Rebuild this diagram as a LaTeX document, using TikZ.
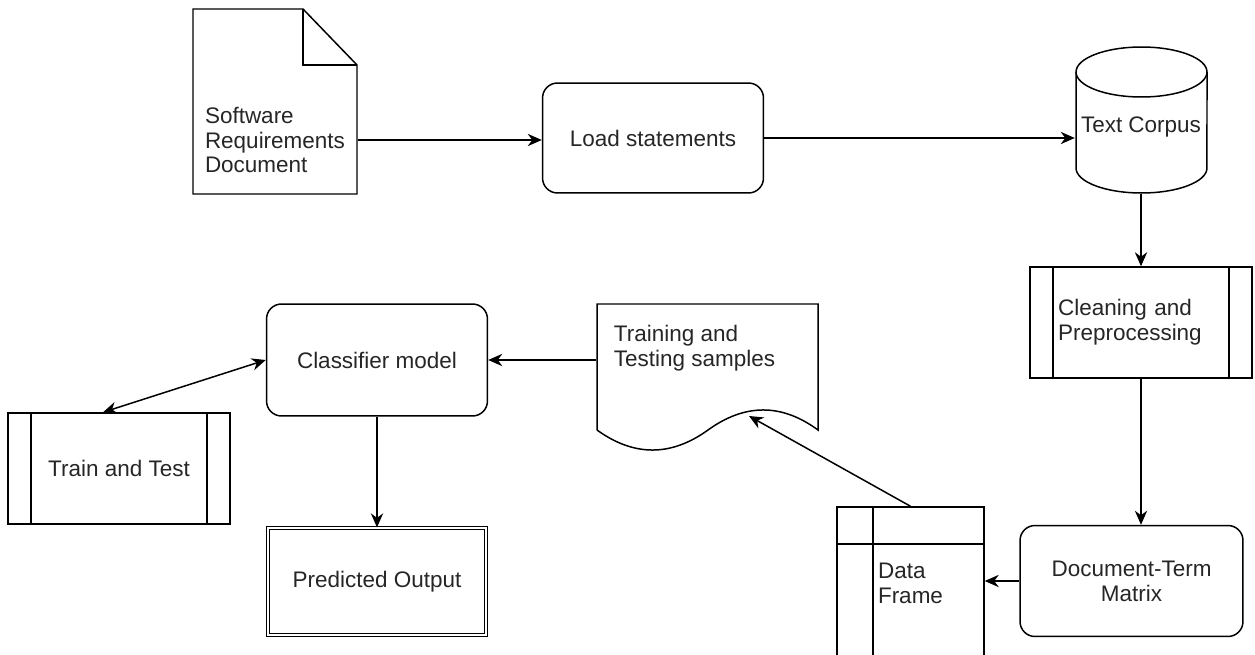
\documentclass[tikz,border=0pt]{standalone}
\usepackage{fontspec}
\setmainfont{Liberation Sans}
\usetikzlibrary{arrows.meta}

\begin{document}
\begin{tikzpicture}[x=0.02cm,y=0.02cm,line width=0.85pt,
  font=\fontsize{12.8}{14.2}\selectfont,
  txt/.style={text=black!85,align=left,inner sep=0pt},
  blankbox/.style={txt,rectangle,minimum width=4.44cm,minimum height=2.22cm},
  procbox/.style={blankbox,draw,rounded corners=0.3cm},
  predefbox/.style={blankbox,draw,path picture={
      \draw ([xshift=0.46cm]path picture bounding box.north west) -- ([xshift=0.46cm]path picture bounding box.south west);
      \draw ([xshift=-0.46cm]path picture bounding box.north east) -- ([xshift=-0.46cm]path picture bounding box.south east);}},
  storebox/.style={txt,draw,rectangle,minimum width=2.94cm,minimum height=3.06cm,path picture={
      \draw ([xshift=0.72cm]path picture bounding box.north west) -- ([xshift=0.72cm]path picture bounding box.south west);
      \draw ([yshift=-0.74cm]path picture bounding box.north west) -- ([yshift=-0.74cm]path picture bounding box.north east);}},
  endbox/.style={blankbox,draw,double,double distance=1.2pt,line width=0.7pt,minimum width=4.36cm,minimum height=2.14cm},
  flow/.style={-{Stealth[length=8pt,width=7pt]}}]
\useasboundingbox (0,0) rectangle (1255,654);

% Top row: document, loading, corpus
\node[txt,minimum width=3.28cm,minimum height=2.16cm] (srd) at (275,514) {Software\\Requirements\\Document};
\draw (193,460) -- (193,645) -- (303,645) -- (357,589) -- (357,460) -- cycle;
\draw (303,645) -- (303,589) -- (357,589);

\node[procbox,minimum width=4.42cm,minimum height=2.2cm] (load) at (653,516) {Load statements};

\node[txt,minimum width=2.62cm,minimum height=2.64cm] (corpus) at (1141,527) {Text Corpus};
\draw (1076,582) -- (1076,486) arc[start angle=180,end angle=360,x radius=1.31cm,y radius=0.5cm]
  -- (1207,582) arc[start angle=0,end angle=180,x radius=1.31cm,y radius=0.5cm] -- cycle;
\draw (1076,582) arc[start angle=180,end angle=360,x radius=1.31cm,y radius=0.5cm];

% Right column
\node[predefbox,text width=3.32cm,inner xsep=0.56cm] (clean) at (1141,331.5) {Cleaning and\\Preprocessing};
\node[procbox,align=center,minimum width=4.46cm] (dtm) at (1131.5,73) {Document-Term\\Matrix};
\node[storebox] (frame) at (910.5,70.5) {Data\\Frame};

% Samples with wavy bottom
\node[txt,minimum width=3.9cm,minimum height=1.76cm] (samples) at (694.5,306) {Training and\\Testing samples};
\draw (597,224) -- (597,350) -- (818,350) -- (818,224)
  .. controls (781.7,250.7) and (745,250.7) .. (708,224)
  .. controls (671,197.3) and (634,197.3) .. (597,224);
\coordinate (wave) at (749,238);

% Model side
\node[procbox,minimum width=4.42cm,minimum height=2.24cm] (clf) at (377,294) {Classifier model};
\node[predefbox] (train) at (119,185.5) {Train and Test};
\node[endbox] (output) at (377,72.5) {Predicted Output};

% Connectors
\draw[flow] (srd.east) -- (srd.east -| load.west);
\draw[flow] (load.east) -- (load.east -| corpus.west);
\draw[flow] (corpus.south) -- (corpus.south |- clean.north);
\draw[flow] (clean.south) -- (clean.south |- dtm.north);
\draw[flow] (dtm.west) -- (dtm.west -| frame.east);
\draw[flow] (frame.north) -- (wave);
\draw[flow] (samples.west |- clf.east) -- (clf.east);
\draw[{Stealth[length=8pt,width=7pt]}-{Stealth[length=8pt,width=7pt]}] ([xshift=-0.32cm]train.north) -- (clf.west);
\draw[flow] (clf.south) -- (clf.south |- output.north);

\end{tikzpicture}
\end{document}
